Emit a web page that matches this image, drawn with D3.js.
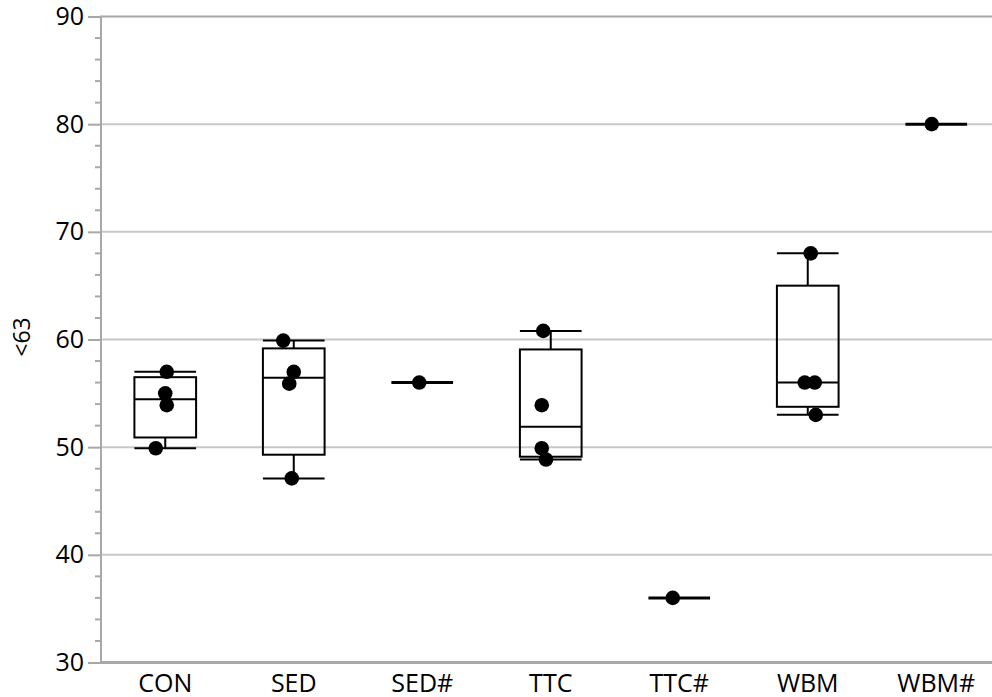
<!DOCTYPE html>
<html>
<head>
<meta charset="utf-8">
<script src="https://cdn.jsdelivr.net/npm/d3@7"></script>
<style>
  html, body { margin: 0; padding: 0; background: #fff; }
  svg { display: block; font-family: "Open Sans", "Noto Sans", sans-serif; }
</style>
</head>
<body>
<svg id="chart" width="992" height="697"></svg>
<script>
// Groups shown along the x axis
const categories = ["CON", "SED", "SED#", "TTC", "TTC#", "WBM", "WBM#"];

// Observed values (<63 fraction) per group
const valuesCON  = [57, 55, 53.9, 49.9];
const valuesSED  = [59.9, 57, 55.9, 47.1];
const valuesSEDh = [56];
const valuesTTC  = [60.8, 53.9, 49.9, 48.85];
const valuesTTCh = [36];
const valuesWBM  = [68, 56, 56, 53];
const valuesWBMh = [80];

// Horizontal jitter of each point, in pixels
const jitterCON  = [1.5, 0, 1.5, -9.5];
const jitterSED  = [-10.5, 0, -4.5, -2];
const jitterSEDh = [-3];
const jitterTTC  = [-7.5, -9, -9, -4.75];
const jitterTTCh = [-6.5];
const jitterWBM  = [3, -3, 7, 8];
const jitterWBMh = [-4.5];

const yTicks = [30, 40, 50, 60, 70, 80, 90];
const yMinorTicks = d3.range(30, 90.001, 2);
const yLabel = "<63";

const groups = [
  { name: "CON",  values: valuesCON,  jitter: jitterCON },
  { name: "SED",  values: valuesSED,  jitter: jitterSED },
  { name: "SED#", values: valuesSEDh, jitter: jitterSEDh },
  { name: "TTC",  values: valuesTTC,  jitter: jitterTTC },
  { name: "TTC#", values: valuesTTCh, jitter: jitterTTCh },
  { name: "WBM",  values: valuesWBM,  jitter: jitterWBM },
  { name: "WBM#", values: valuesWBMh, jitter: jitterWBMh }
];

// Quantile at p using the (n+1)p definition
function quantile(sorted, p) {
  const n = sorted.length;
  if (n === 1) return sorted[0];
  const pos = (n + 1) * p;
  if (pos <= 1) return sorted[0];
  if (pos >= n) return sorted[n - 1];
  const lo = Math.floor(pos), frac = pos - lo;
  return sorted[lo - 1] + frac * (sorted[lo] - sorted[lo - 1]);
}

const svg = d3.select("#chart");
const plotLeft = 101, plotTop = 16.5, plotBottom = 662.5, plotRight = 1000.5;
const labelFont = "'Open Sans', 'Noto Sans', sans-serif";

const x = d3.scaleBand().domain(categories).range([plotLeft, plotRight]).padding(0);
const y = d3.scaleLinear().domain([30, 90]).range([plotBottom, plotTop]);
const boxW = x.bandwidth() * 0.48;

// Grid lines
svg.append("g")
  .selectAll("line")
  .data(yTicks.filter(t => t > 30 && t < 90))
  .join("line")
  .attr("x1", plotLeft).attr("x2", 992)
  .attr("y1", d => y(d)).attr("y2", d => y(d))
  .attr("stroke", "#c8c8c8").attr("stroke-width", 2);

// Frame top line
svg.append("line")
  .attr("x1", plotLeft).attr("x2", 992)
  .attr("y1", y(90)).attr("y2", y(90))
  .attr("stroke", "#a8a8a8").attr("stroke-width", 2);

// Y axis with major ticks
const yAxis = svg.append("g")
  .attr("transform", `translate(${plotLeft},0)`)
  .call(d3.axisLeft(y).tickValues(yTicks).tickSize(13).tickPadding(4).tickFormat(d3.format("d")));
yAxis.select(".domain").remove();
yAxis.selectAll(".tick line").attr("stroke", "#a8a8a8").attr("stroke-width", 2);
yAxis.selectAll(".tick text")
  .attr("fill", "#000")
  .style("font-size", "25px")
  .style("font-family", labelFont);

// Minor ticks
svg.append("g")
  .selectAll("line")
  .data(yMinorTicks.filter(t => t % 10 !== 0))
  .join("line")
  .attr("x1", plotLeft - 6).attr("x2", plotLeft)
  .attr("y1", d => y(d)).attr("y2", d => y(d))
  .attr("stroke", "#a8a8a8").attr("stroke-width", 2);

// Left axis line
svg.append("line")
  .attr("x1", plotLeft).attr("x2", plotLeft)
  .attr("y1", plotTop - 1).attr("y2", plotBottom + 1)
  .attr("stroke", "#a8a8a8").attr("stroke-width", 2);

// X axis
const xAxis = svg.append("g")
  .attr("transform", `translate(0,${plotBottom})`)
  .call(d3.axisBottom(x).tickSize(0).tickPadding(12));
xAxis.select(".domain").remove();
xAxis.selectAll(".tick text")
  .attr("fill", "#000")
  .style("font-size", "25px")
  .style("font-family", labelFont);
svg.append("line")
  .attr("x1", plotLeft - 1).attr("x2", 992)
  .attr("y1", plotBottom).attr("y2", plotBottom)
  .attr("stroke", "#a8a8a8").attr("stroke-width", 3);

// Y label
svg.append("text")
  .attr("transform", "translate(30,337) rotate(-90)")
  .attr("text-anchor", "middle")
  .attr("fill", "#000")
  .style("font-size", "23px")
  .style("font-family", labelFont)
  .text(yLabel);

// Box plots
const boxes = svg.append("g");
groups.forEach(g => {
  const s = g.values.slice().sort(d3.ascending);
  const cx = x(g.name) + x.bandwidth() / 2;
  const x0 = cx - boxW / 2, x1 = cx + boxW / 2;
  const gEl = boxes.append("g");
  if (s.length === 1) {
    gEl.append("line")
      .attr("x1", x0).attr("x2", x1)
      .attr("y1", y(s[0])).attr("y2", y(s[0]))
      .attr("stroke", "#000").attr("stroke-width", 3);
    return;
  }
  const q1 = quantile(s, 0.25), med = quantile(s, 0.5), q3 = quantile(s, 0.75);
  const lo = s[0], hi = s[s.length - 1];
  // whisker stems
  gEl.append("line").attr("x1", cx).attr("x2", cx).attr("y1", y(q3)).attr("y2", y(hi))
    .attr("stroke", "#000").attr("stroke-width", 2);
  gEl.append("line").attr("x1", cx).attr("x2", cx).attr("y1", y(q1)).attr("y2", y(lo))
    .attr("stroke", "#000").attr("stroke-width", 2);
  // caps
  [lo, hi].forEach(v => {
    gEl.append("line").attr("x1", x0).attr("x2", x1).attr("y1", y(v)).attr("y2", y(v))
      .attr("stroke", "#000").attr("stroke-width", 2);
  });
  // box
  gEl.append("rect")
    .attr("x", x0).attr("width", boxW)
    .attr("y", y(q3)).attr("height", y(q1) - y(q3))
    .attr("fill", "none").attr("stroke", "#000").attr("stroke-width", 2);
  // median
  gEl.append("line").attr("x1", x0).attr("x2", x1).attr("y1", y(med)).attr("y2", y(med))
    .attr("stroke", "#000").attr("stroke-width", 2);
});

// Points
const pts = [];
groups.forEach(g => g.values.forEach((v, i) => pts.push({ name: g.name, v, j: g.jitter[i] })));
svg.append("g")
  .selectAll("circle")
  .data(pts)
  .join("circle")
  .attr("cx", d => x(d.name) + x.bandwidth() / 2 + d.j)
  .attr("cy", d => y(d.v))
  .attr("r", 7.3)
  .attr("fill", "#000");
</script>
</body>
</html>
